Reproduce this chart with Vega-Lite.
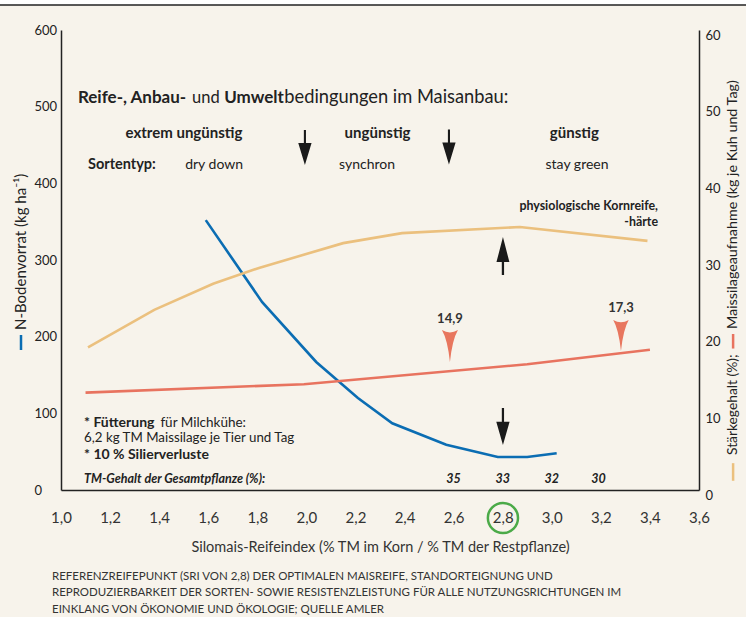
{
  "$schema": "https://vega.github.io/schema/vega-lite/v6.json",
  "width": 638,
  "height": 460,
  "autosize": {"type": "none"},
  "padding": {"left": 61, "top": 30, "right": 47, "bottom": 127},
  "background": "#F7F3EB",
  "config": {"view": {"stroke": null}, "font": "Lato"},
  "datasets": {
    "curves": [
      {"sri": 1.59, "series": "N-Bodenvorrat", "value": 352},
      {"sri": 1.82, "series": "N-Bodenvorrat", "value": 245},
      {"sri": 2.04, "series": "N-Bodenvorrat", "value": 167},
      {"sri": 2.21, "series": "N-Bodenvorrat", "value": 120},
      {"sri": 2.35, "series": "N-Bodenvorrat", "value": 87},
      {"sri": 2.57, "series": "N-Bodenvorrat", "value": 59},
      {"sri": 2.78, "series": "N-Bodenvorrat", "value": 43},
      {"sri": 2.9, "series": "N-Bodenvorrat", "value": 43},
      {"sri": 3.02, "series": "N-Bodenvorrat", "value": 48},
      {"sri": 1.11, "series": "Stärkegehalt", "value": 18.6},
      {"sri": 1.38, "series": "Stärkegehalt", "value": 23.5},
      {"sri": 1.62, "series": "Stärkegehalt", "value": 26.9},
      {"sri": 1.81, "series": "Stärkegehalt", "value": 29.0},
      {"sri": 2.15, "series": "Stärkegehalt", "value": 32.2},
      {"sri": 2.39, "series": "Stärkegehalt", "value": 33.5},
      {"sri": 2.87, "series": "Stärkegehalt", "value": 34.3},
      {"sri": 3.39, "series": "Stärkegehalt", "value": 32.5},
      {"sri": 1.1, "series": "Maissilageaufnahme", "value": 12.7},
      {"sri": 1.99, "series": "Maissilageaufnahme", "value": 13.8},
      {"sri": 2.9, "series": "Maissilageaufnahme", "value": 16.4},
      {"sri": 3.4, "series": "Maissilageaufnahme", "value": 18.3}
    ]
  },
  "data": {"values": [{}]},
  "resolve": {"scale": {"y": "independent"}},
  "layer": [
    {
      "layer": [
        {
          "data": {"name": "curves"},
          "transform": [{"filter": "datum.series === 'N-Bodenvorrat'"}],
          "mark": {"type": "line", "color": "#0B6DB3", "strokeWidth": 2.6},
          "encoding": {
            "x": {"field": "sri", "type": "quantitative",
              "scale": {"domain": [1, 3.6], "nice": false, "zero": false},
              "axis": {"orient": "bottom", "values": [1, 1.2, 1.4, 1.6, 1.8, 2, 2.2, 2.4, 2.6, 2.8, 3, 3.2, 3.4, 3.6],
                "labelExpr": "replace(format(datum.value, '.1f'), '.', ',')",
                "domainColor": "#222", "domainWidth": 1.5, "ticks": false, "grid": false,
                "labelFont": "Lato", "labelFontSize": 15, "labelColor": "#333", "labelPadding": 20,
                "labelFlush": false,
                "title": "Silomais-Reifeindex (% TM im Korn / % TM der Restpflanze)",
                "titleFont": "Lato", "titleFontSize": 14.5, "titleFontWeight": "normal", "titleColor": "#333", "titlePadding": 15}},
            "y": {"field": "value", "type": "quantitative",
              "scale": {"domain": [0, 600], "nice": false},
              "axis": {"orient": "left", "values": [0, 100, 200, 300, 400, 500, 600],
                "domainColor": "#222", "domainWidth": 1.5, "ticks": false, "grid": false,
                "labelFont": "Lato", "labelFontSize": 13, "labelColor": "#222", "labelAlign": "left", "labelPadding": 27,
                "labelFlush": false, "title": null}}
          }
        },
        {
          "mark": {"type": "rect", "color": "#FFFFFF"},
          "encoding": {"x": {"datum": 0.7, "type": "quantitative"}, "x2": {"datum": 3.85},
            "y": {"datum": 632.6, "type": "quantitative"}, "y2": {"datum": 650}}
        },
        {
          "mark": {"type": "rule", "color": "#222", "strokeWidth": 1.5},
          "encoding": {"x": {"datum": 0.7, "type": "quantitative"}, "x2": {"datum": 3.85},
            "y": {"datum": 632.6, "type": "quantitative"}}
        },
        {
          "mark": {"type": "text", "text": "Reife-, Anbau-", "fontSize": 17, "fontWeight": "bold", "align": "left", "baseline": "alphabetic", "color": "#222"},
          "encoding": {"x": {"datum": 1.069, "type": "quantitative"}, "y": {"datum": 504.8, "type": "quantitative"}}
        },
        {
          "mark": {"type": "text", "text": "und", "fontSize": 16.5, "align": "left", "baseline": "alphabetic", "color": "#222"},
          "encoding": {"x": {"datum": 1.534, "type": "quantitative"}, "y": {"datum": 504.8, "type": "quantitative"}}
        },
        {
          "mark": {"type": "text", "text": "Umwelt", "fontSize": 17, "fontWeight": "bold", "align": "left", "baseline": "alphabetic", "color": "#222"},
          "encoding": {"x": {"datum": 1.665, "type": "quantitative"}, "y": {"datum": 504.8, "type": "quantitative"}}
        },
        {
          "mark": {"type": "text", "text": "bedingungen im Maisanbau:", "fontSize": 18.3, "align": "left", "baseline": "alphabetic", "color": "#222"},
          "encoding": {"x": {"datum": 1.91, "type": "quantitative"}, "y": {"datum": 504.8, "type": "quantitative"}}
        },
        {
          "mark": {"type": "text", "text": "extrem ungünstig", "fontSize": 15, "fontWeight": "bold", "align": "center", "baseline": "alphabetic", "color": "#222"},
          "encoding": {"x": {"datum": 1.501, "type": "quantitative"}, "y": {"datum": 459.1, "type": "quantitative"}}
        },
        {
          "mark": {"type": "text", "text": "ungünstig", "fontSize": 15, "fontWeight": "bold", "align": "center", "baseline": "alphabetic", "color": "#222"},
          "encoding": {"x": {"datum": 2.29, "type": "quantitative"}, "y": {"datum": 459.1, "type": "quantitative"}}
        },
        {
          "mark": {"type": "text", "text": "günstig", "fontSize": 15, "fontWeight": "bold", "align": "center", "baseline": "alphabetic", "color": "#222"},
          "encoding": {"x": {"datum": 3.092, "type": "quantitative"}, "y": {"datum": 459.1, "type": "quantitative"}}
        },
        {
          "mark": {"type": "text", "text": "Sortentyp:", "fontSize": 14.5, "fontWeight": "bold", "align": "left", "baseline": "alphabetic", "color": "#222"},
          "encoding": {"x": {"datum": 1.11, "type": "quantitative"}, "y": {"datum": 418.7, "type": "quantitative"}}
        },
        {
          "mark": {"type": "text", "text": "dry down", "fontSize": 14, "align": "center", "baseline": "alphabetic", "color": "#222"},
          "encoding": {"x": {"datum": 1.624, "type": "quantitative"}, "y": {"datum": 418.7, "type": "quantitative"}}
        },
        {
          "mark": {"type": "text", "text": "synchron", "fontSize": 14, "align": "center", "baseline": "alphabetic", "color": "#222"},
          "encoding": {"x": {"datum": 2.247, "type": "quantitative"}, "y": {"datum": 418.7, "type": "quantitative"}}
        },
        {
          "mark": {"type": "text", "text": "stay green", "fontSize": 14, "align": "center", "baseline": "alphabetic", "color": "#222"},
          "encoding": {"x": {"datum": 3.103, "type": "quantitative"}, "y": {"datum": 418.7, "type": "quantitative"}}
        },
        {
          "mark": {"type": "point", "shape": "M-0.06,-1 L0.06,-1 L0.06,-0.26 L0.38,-0.26 L0,1 L-0.38,-0.26 L-0.06,-0.26 Z", "filled": true, "color": "#1A1A1A", "opacity": 1, "size": 1225, "strokeWidth": 0},
          "encoding": {"x": {"datum": 1.994, "type": "quantitative"}, "y": {"datum": 446.7, "type": "quantitative"}}
        },
        {
          "mark": {"type": "point", "shape": "M-0.06,-1 L0.06,-1 L0.06,-0.26 L0.38,-0.26 L0,1 L-0.38,-0.26 L-0.06,-0.26 Z", "filled": true, "color": "#1A1A1A", "opacity": 1, "size": 1225, "strokeWidth": 0},
          "encoding": {"x": {"datum": 2.581, "type": "quantitative"}, "y": {"datum": 447.4, "type": "quantitative"}}
        },
        {
          "mark": {"type": "point", "shape": "M-0.06,1 L0.06,1 L0.06,0.32 L0.34,0.32 L0,-1 L-0.34,0.32 L-0.06,0.32 Z", "filled": true, "color": "#1A1A1A", "opacity": 1, "size": 1444, "strokeWidth": 0},
          "encoding": {"x": {"datum": 2.801, "type": "quantitative"}, "y": {"datum": 305.2, "type": "quantitative"}}
        },
        {
          "mark": {"type": "point", "shape": "M-0.06,-1 L0.06,-1 L0.06,-0.26 L0.36,-0.26 L0,1 L-0.36,-0.26 L-0.06,-0.26 Z", "filled": true, "color": "#1A1A1A", "opacity": 1, "size": 1369, "strokeWidth": 0},
          "encoding": {"x": {"datum": 2.801, "type": "quantitative"}, "y": {"datum": 82.8, "type": "quantitative"}}
        },
        {
          "mark": {"type": "point", "shape": "M-0.5,-1 Q0,-0.7 0.5,-1 Q0.15,-0.4 0,1 Q-0.15,-0.4 -0.5,-1 Z", "filled": true, "color": "#E8765E", "opacity": 1, "size": 1024, "strokeWidth": 0},
          "encoding": {"x": {"datum": 2.585, "type": "quantitative"}, "y": {"datum": 187.8, "type": "quantitative"}}
        },
        {
          "mark": {"type": "point", "shape": "M-0.5,-1 Q0,-0.7 0.5,-1 Q0.15,-0.4 0,1 Q-0.15,-0.4 -0.5,-1 Z", "filled": true, "color": "#E8765E", "opacity": 1, "size": 961, "strokeWidth": 0},
          "encoding": {"x": {"datum": 3.282, "type": "quantitative"}, "y": {"datum": 201.5, "type": "quantitative"}}
        },
        {
          "mark": {"type": "text", "text": "14,9", "fontSize": 13, "fontWeight": "bold", "align": "center", "baseline": "alphabetic", "color": "#333"},
          "encoding": {"x": {"datum": 2.585, "type": "quantitative"}, "y": {"datum": 218.2, "type": "quantitative"}}
        },
        {
          "mark": {"type": "text", "text": "17,3", "fontSize": 13, "fontWeight": "bold", "align": "center", "baseline": "alphabetic", "color": "#333"},
          "encoding": {"x": {"datum": 3.282, "type": "quantitative"}, "y": {"datum": 232.6, "type": "quantitative"}}
        },
        {
          "mark": {"type": "text", "text": "physiologische Kornreife,", "fontSize": 12.4, "fontWeight": "bold", "align": "right", "baseline": "alphabetic", "color": "#222"},
          "encoding": {"x": {"datum": 3.433, "type": "quantitative"}, "y": {"datum": 365.2, "type": "quantitative"}}
        },
        {
          "mark": {"type": "text", "text": "-härte", "fontSize": 12.4, "fontWeight": "bold", "align": "right", "baseline": "alphabetic", "color": "#222"},
          "encoding": {"x": {"datum": 3.433, "type": "quantitative"}, "y": {"datum": 344.3, "type": "quantitative"}}
        },
        {
          "mark": {"type": "text", "text": "* Fütterung", "fontSize": 14, "fontWeight": "bold", "align": "left", "baseline": "alphabetic", "color": "#222"},
          "encoding": {"x": {"datum": 1.094, "type": "quantitative"}, "y": {"datum": 82.2, "type": "quantitative"}}
        },
        {
          "mark": {"type": "text", "text": "für Milchkühe:", "fontSize": 13.5, "align": "left", "baseline": "alphabetic", "color": "#222"},
          "encoding": {"x": {"datum": 1.405, "type": "quantitative"}, "y": {"datum": 82.2, "type": "quantitative"}}
        },
        {
          "mark": {"type": "text", "text": "6,2 kg TM Maissilage je Tier und Tag", "fontSize": 13.3, "align": "left", "baseline": "alphabetic", "color": "#222"},
          "encoding": {"x": {"datum": 1.094, "type": "quantitative"}, "y": {"datum": 62.4, "type": "quantitative"}}
        },
        {
          "mark": {"type": "text", "text": "* 10 % Silierverluste", "fontSize": 14, "fontWeight": "bold", "align": "left", "baseline": "alphabetic", "color": "#222"},
          "encoding": {"x": {"datum": 1.094, "type": "quantitative"}, "y": {"datum": 41.0, "type": "quantitative"}}
        },
        {
          "mark": {"type": "text", "text": "TM-Gehalt der Gesamtpflanze (%):", "fontSize": 12.5, "fontWeight": "bold", "fontStyle": "italic", "align": "left", "baseline": "alphabetic", "color": "#222"},
          "encoding": {"x": {"datum": 1.094, "type": "quantitative"}, "y": {"datum": 9.1, "type": "quantitative"}}
        },
        {
          "mark": {"type": "text", "text": "35", "fontSize": 12.5, "fontWeight": "bold", "fontStyle": "italic", "align": "center", "baseline": "alphabetic", "color": "#222"},
          "encoding": {"x": {"datum": 2.6, "type": "quantitative"}, "y": {"datum": 9.1, "type": "quantitative"}}
        },
        {
          "mark": {"type": "text", "text": "33", "fontSize": 12.5, "fontWeight": "bold", "fontStyle": "italic", "align": "center", "baseline": "alphabetic", "color": "#222"},
          "encoding": {"x": {"datum": 2.8, "type": "quantitative"}, "y": {"datum": 9.1, "type": "quantitative"}}
        },
        {
          "mark": {"type": "text", "text": "32", "fontSize": 12.5, "fontWeight": "bold", "fontStyle": "italic", "align": "center", "baseline": "alphabetic", "color": "#222"},
          "encoding": {"x": {"datum": 3.0, "type": "quantitative"}, "y": {"datum": 9.1, "type": "quantitative"}}
        },
        {
          "mark": {"type": "text", "text": "30", "fontSize": 12.5, "fontWeight": "bold", "fontStyle": "italic", "align": "center", "baseline": "alphabetic", "color": "#222"},
          "encoding": {"x": {"datum": 3.19, "type": "quantitative"}, "y": {"datum": 9.1, "type": "quantitative"}}
        },
        {
          "mark": {"type": "point", "shape": "circle", "filled": false, "color": "#4BAA48", "opacity": 1, "size": 908, "strokeWidth": 2.5},
          "encoding": {"x": {"datum": 2.801, "type": "quantitative"}, "y": {"datum": -36.5, "type": "quantitative"}}
        },
        {
          "mark": {"type": "text", "text": "N-Bodenvorrat (kg ha⁻¹)", "fontSize": 15, "angle": 270, "align": "left", "baseline": "middle", "color": "#222"},
          "encoding": {"x": {"datum": 0.837, "type": "quantitative"}, "y": {"datum": 208.7, "type": "quantitative"}}
        },
        {
          "mark": {"type": "rule", "color": "#0B6DB3", "strokeWidth": 2.5},
          "encoding": {"x": {"datum": 0.837, "type": "quantitative"}, "y": {"datum": 202.2, "type": "quantitative"}, "y2": {"datum": 182.6}}
        },
        {
          "mark": {"type": "text", "text": "Stärkegehalt (%);", "fontSize": 13.8, "angle": 270, "align": "left", "baseline": "middle", "color": "#222"},
          "encoding": {"x": {"datum": 3.739, "type": "quantitative"}, "y": {"datum": 45.6, "type": "quantitative"}}
        },
        {
          "mark": {"type": "rule", "color": "#EBC07E", "strokeWidth": 2.5},
          "encoding": {"x": {"datum": 3.739, "type": "quantitative"}, "y": {"datum": 35, "type": "quantitative"}, "y2": {"datum": 12}}
        },
        {
          "mark": {"type": "text", "text": "Maissilageaufnahme (kg je Kuh und Tag)", "fontSize": 14.3, "angle": 270, "align": "left", "baseline": "middle", "color": "#222"},
          "encoding": {"x": {"datum": 3.739, "type": "quantitative"}, "y": {"datum": 210, "type": "quantitative"}}
        },
        {
          "mark": {"type": "rule", "color": "#E8735F", "strokeWidth": 2.5},
          "encoding": {"x": {"datum": 3.739, "type": "quantitative"}, "y": {"datum": 203.5, "type": "quantitative"}, "y2": {"datum": 184.5}}
        },
        {
          "mark": {"type": "text", "text": ["REFERENZREIFEPUNKT (SRI VON 2,8) DER OPTIMALEN MAISREIFE, STANDORTEIGNUNG UND", "REPRODUZIERBARKEIT DER SORTEN- SOWIE RESISTENZLEISTUNG FÜR ALLE NUTZUNGSRICHTUNGEN IM", "EINKLANG VON ÖKONOMIE UND ÖKOLOGIE; QUELLE AMLER"], "fontSize": 11.5, "lineHeight": 16.3, "align": "left", "baseline": "alphabetic", "color": "#333"},
          "encoding": {"x": {"datum": 0.9633, "type": "quantitative"}, "y": {"datum": -117.4, "type": "quantitative"}}
        }
      ]
    },
    {
      "layer": [
        {
          "data": {"name": "curves"},
          "transform": [{"filter": "datum.series === 'Stärkegehalt'"}],
          "mark": {"type": "line", "color": "#EBC07E", "strokeWidth": 2.6},
          "encoding": {
            "x": {"field": "sri", "type": "quantitative"},
            "y": {"field": "value", "type": "quantitative",
              "scale": {"domain": [0, 60], "nice": false},
              "axis": {"orient": "right", "values": [0, 10, 20, 30, 40, 50, 60],
                "domainColor": "#222", "domainWidth": 1.5, "ticks": false, "grid": false,
                "labelFont": "Lato", "labelFontSize": 13, "labelColor": "#222", "labelAlign": "left", "labelPadding": 6, "labelOffset": 5,
                "labelFlush": false, "title": null}}
          }
        },
        {
          "data": {"name": "curves"},
          "transform": [{"filter": "datum.series === 'Maissilageaufnahme'"}],
          "mark": {"type": "line", "color": "#E8735F", "strokeWidth": 2.6},
          "encoding": {
            "x": {"field": "sri", "type": "quantitative"},
            "y": {"field": "value", "type": "quantitative", "scale": {"domain": [0, 60], "nice": false}}
          }
        }
      ]
    }
  ]
}
